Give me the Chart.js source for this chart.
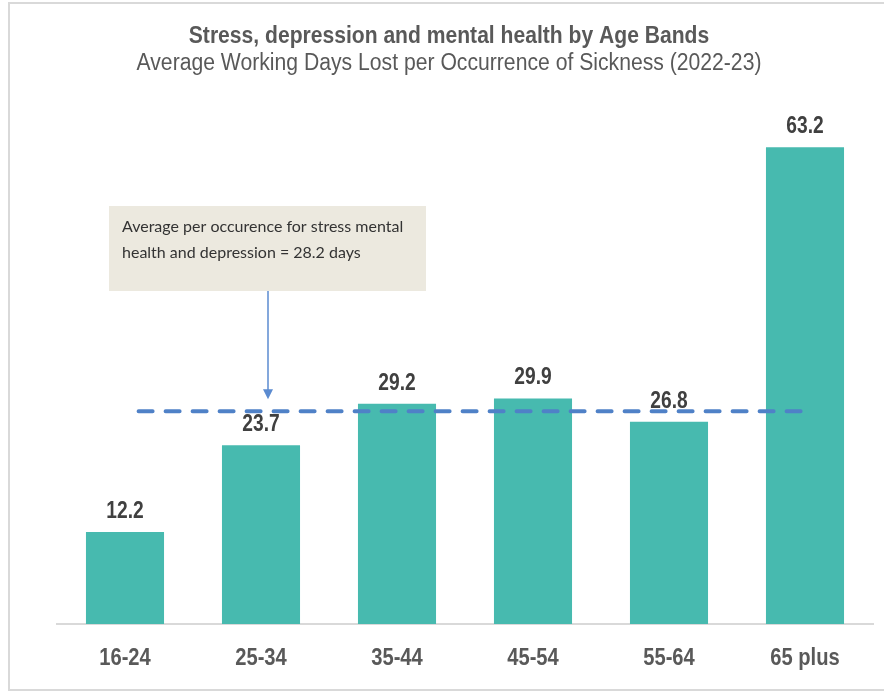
<!DOCTYPE html>
<html>
<head>
<meta charset="utf-8">
<script src="https://cdn.jsdelivr.net/npm/chart.js@4.4.1/dist/chart.umd.min.js"></script>
<style>
  html, body { margin: 0; padding: 0; background: #fff; }
  #wrap { position: relative; width: 884px; height: 693px; overflow: hidden; }
  #frame { position: absolute; left: 8px; top: 2px; width: 890px; height: 689px; border: 2px solid #d9d9d9; box-sizing: border-box; }
  canvas { position: absolute; left: 0; top: 0; }
</style>
</head>
<body>
<div id="wrap">
  <div id="frame"></div>
  <canvas id="myChart" width="884" height="693"></canvas>
</div>
<script>
const ageBands = ["16-24", "25-34", "35-44", "45-54", "55-64", "65 plus"];
const daysLost = [12.2, 23.7, 29.2, 29.9, 26.8, 63.2];
const averageDays = 28.2;
const averageFrom = 0.1;
const averageTo = 5.0;

const titleText = "Stress, depression and mental health by Age Bands";
const subtitleText = "Average Working Days Lost per Occurrence of Sickness (2022-23)";
const noteLines = ["Average per occurence for stress mental", "health and depression = 28.2 days"];

const sans = '"Liberation Sans", Arial, sans-serif';

// squeezes text sideways, to look like Arial Narrow
const narrowText = (ctx, text, x, y, squeeze) => {
    ctx.save();
    ctx.translate(x, y);
    ctx.scale(squeeze, 1);
    ctx.fillText(text, 0, 0);
    ctx.restore();
};

const extras = {
    id: "extras",
    afterDatasetDraw: (chart, args) => {
        if (args.index !== 0) return;
        const ctx = chart.ctx;
        ctx.save();
        ctx.fillStyle = "#404040";
        ctx.font = "bold 24px " + sans;
        ctx.textAlign = "center";
        ctx.textBaseline = "alphabetic";
        args.meta.data.forEach((bar, i) => {
            narrowText(ctx, daysLost[i].toFixed(1), bar.x, bar.y - 14, 0.8);
        });
        ctx.restore();
    },
    afterDraw: (chart) => {
        const ctx = chart.ctx;
        const x = chart.scales.x;
        const y = chart.scales.y;
        ctx.save();

        ctx.textAlign = "center";
        ctx.textBaseline = "alphabetic";
        ctx.fillStyle = "#595959";
        ctx.font = "bold 23px " + sans;
        narrowText(ctx, titleText, 449, 43, 0.917);
        ctx.font = "23px " + sans;
        narrowText(ctx, subtitleText, 449, 70, 0.92);

        ctx.font = "bold 24px " + sans;
        ageBands.forEach((band, i) => {
            narrowText(ctx, band, x.getPixelForTick(i), 665, 0.84);
        });

        ctx.fillStyle = "#ECE9DF";
        ctx.fillRect(109, 206, 317, 85);
        ctx.fillStyle = "#333333";
        ctx.font = "16px Lato, sans-serif";
        ctx.textAlign = "left";
        ctx.textBaseline = "middle";
        ctx.fillText(noteLines[0], 122, 227);
        ctx.fillText(noteLines[1], 122, 253);

        const arrowX = 268;
        const arrowEnd = y.getPixelForValue(averageDays) - 12;
        ctx.strokeStyle = "#5B8BD0";
        ctx.fillStyle = "#5B8BD0";
        ctx.lineWidth = 1.5;
        ctx.beginPath();
        ctx.moveTo(arrowX, 291);
        ctx.lineTo(arrowX, arrowEnd - 8);
        ctx.stroke();
        ctx.beginPath();
        ctx.moveTo(arrowX - 5, arrowEnd - 10);
        ctx.lineTo(arrowX + 5, arrowEnd - 10);
        ctx.lineTo(arrowX, arrowEnd);
        ctx.closePath();
        ctx.fill();

        ctx.restore();
    }
};

const ctx = document.getElementById("myChart").getContext("2d");

const config = {
    data: {
        labels: ageBands,
        datasets: [{
            type: "bar",
            label: "Days lost",
            data: daysLost,
            backgroundColor: "#47BAAF",
            categoryPercentage: 1,
            barPercentage: 0.574,
            grouped: false,
            order: 1,
        }, {
            type: "line",
            label: "Average",
            xAxisID: "x2",
            data: [{ x: averageFrom, y: averageDays }, { x: averageTo, y: averageDays }],
            borderColor: "#4F81C7",
            borderWidth: 4,
            borderDash: [14, 13],
            borderCapStyle: "round",
            pointRadius: 0,
            order: 0,
        }],
    },
    options: {
        responsive: false,
        animation: false,
        layout: {
            padding: { left: 57, right: 11, top: 96, bottom: 69 },
        },
        plugins: {
            legend: { display: false },
            tooltip: { enabled: false },
        },
        scales: {
            x: {
                grid: { display: false, drawTicks: false },
                border: { color: "#d9d9d9", width: 2 },
                ticks: { display: false },
            },
            x2: {
                type: "linear",
                display: false,
                min: -0.5,
                max: 5.5,
            },
            y: {
                display: false,
                min: 0,
                max: 70,
            },
        },
    },
    plugins: [extras],
};

const myChart = new Chart(ctx, config);
</script>
</body>
</html>
